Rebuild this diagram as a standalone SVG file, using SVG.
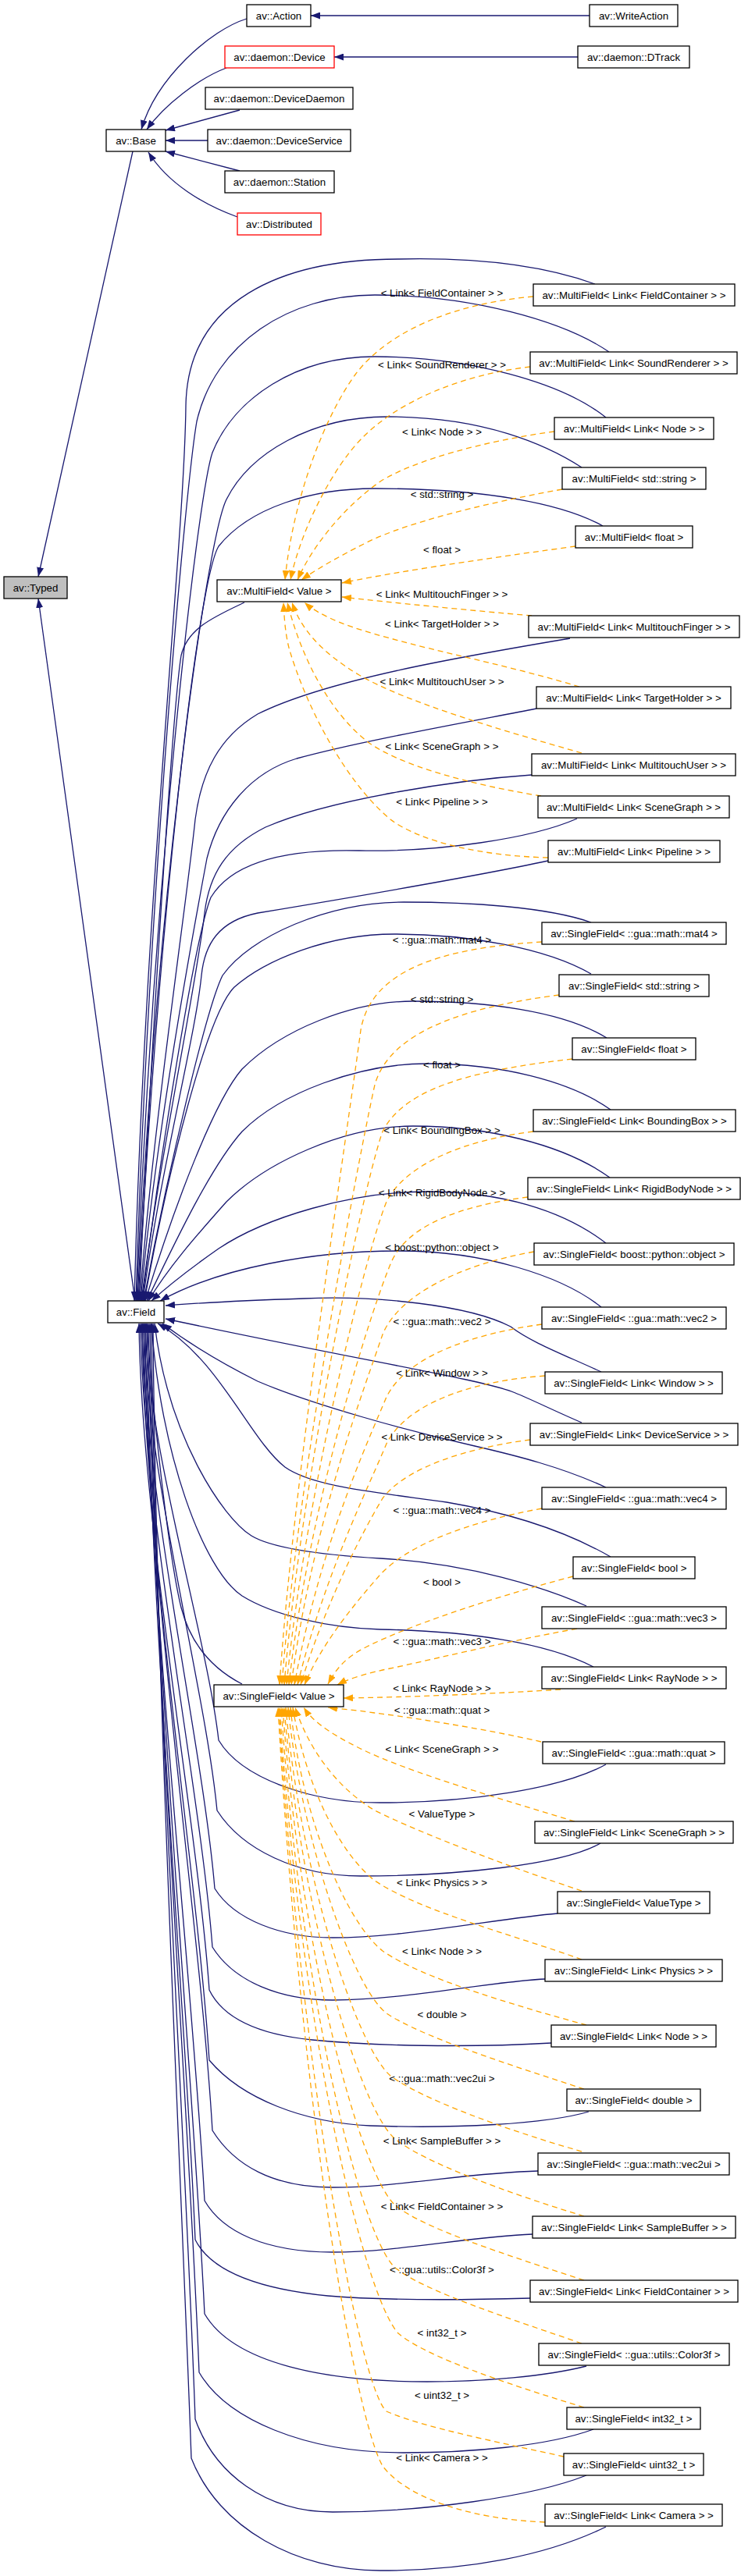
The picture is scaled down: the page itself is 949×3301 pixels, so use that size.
<svg xmlns="http://www.w3.org/2000/svg" width="949" height="3301" viewBox="0 0 949 3301">
<defs>
<style>
.node rect{fill:#fff;stroke:#000;stroke-width:1.3}
.node.red rect{stroke:#f00}
.node.gray rect{fill:#bfbfbf}
text{font-family:"Liberation Sans",Arial,Helvetica,sans-serif;font-size:13.3px;text-anchor:middle;fill:#000}
.e{fill:none;stroke:#191970;stroke-width:1.3;marker-end:url(#an)}
.t{fill:none;stroke:#ffa500;stroke-width:1.3;stroke-dasharray:7,5;marker-end:url(#ao)}
</style>
<marker id="an" viewBox="0 0 12 9" refX="12" refY="4.5" markerWidth="12" markerHeight="9" orient="auto" markerUnits="userSpaceOnUse"><path d="M0,0 L12,4.5 L0,9 z" fill="#191970"/></marker>
<marker id="ao" viewBox="0 0 12 9" refX="12" refY="4.5" markerWidth="12" markerHeight="9" orient="auto" markerUnits="userSpaceOnUse"><path d="M0,0 L12,4.5 L0,9 z" fill="#ffa500"/></marker>
</defs>
<rect width="949" height="3301" fill="#fff"/>
<g id="connectors">
<path class="e" d="M755,20 L398,20"/>
<path class="e" d="M740,73 L428,73"/>
<path class="e" d="M316,24 C270,38 200,100 181,166"/>
<path class="e" d="M290,87 C255,100 210,135 188,166"/>
<path class="e" d="M307,141 L212,167"/>
<path class="e" d="M266,180 L212,180"/>
<path class="e" d="M307,219 L212,194"/>
<path class="e" d="M304,278 C260,262 215,235 190,195"/>
<path class="e" d="M170,194 L49,739"/>
<path class="e" d="M173,1667 L49,767"/>
<!-- MultiField solid -->
<path class="e" d="M762,364 C690,338 600,330 511,332 C360,332 240,385 238,520 C236,700 185,1150 172,1667"/>
<path class="e" d="M780,451 C720,410 600,378 480,378 C370,378 275,440 252,540 C238,620 190,1150 174,1667"/>
<path class="e" d="M776,535 C720,490 600,457 480,457 C380,457 300,510 272,580 C252,640 195,1150 175,1667"/>
<path class="e" d="M745,599 C700,570 620,534 496,534 C400,534 320,580 290,640 C265,690 200,1150 176,1667"/>
<path class="e" d="M772,674 C720,645 620,626 480,626 C400,626 320,650 280,700 C255,740 205,1150 177,1667"/>
<path class="e" d="M313,772 C275,790 240,805 232,840 C222,900 196,1300 178,1667"/>
<path class="e" d="M730,818 C600,840 420,870 330,915 C280,945 258,990 250,1050 C240,1150 195,1450 179,1667"/>
<path class="e" d="M687,908 C600,925 460,950 380,972 C320,990 280,1040 265,1100 C250,1180 200,1450 180,1667"/>
<path class="e" d="M681,993 C580,1000 420,1025 340,1060 C290,1085 268,1120 262,1170 C252,1260 205,1480 181,1667"/>
<path class="e" d="M739,1049 C680,1075 560,1092 460,1090 C380,1088 300,1100 270,1150 C250,1200 205,1480 182,1667"/>
<path class="e" d="M702,1103 C600,1125 420,1155 330,1170 C280,1180 262,1210 258,1250 C250,1330 205,1500 183,1667"/>
<!-- SingleField solid (upper) -->
<path class="e" d="M757,1182 C700,1162 600,1156 517,1156 C420,1156 320,1200 285,1250 C265,1290 215,1500 184,1667"/>
<path class="e" d="M757,1248 C700,1215 600,1197 505,1197 C420,1197 340,1230 300,1265 C265,1300 215,1500 185,1667"/>
<path class="e" d="M777,1330 C720,1295 620,1283 529,1283 C450,1283 360,1320 310,1370 C275,1410 225,1540 186,1667"/>
<path class="e" d="M782,1422 C730,1385 640,1363 547,1363 C460,1363 360,1400 310,1450 C270,1495 225,1590 188,1667"/>
<path class="e" d="M781,1509 C720,1465 620,1443 529,1443 C440,1443 340,1490 290,1540 C250,1585 215,1625 190,1667"/>
<path class="e" d="M776,1593 C720,1550 640,1527 547,1527 C450,1527 340,1560 280,1600 C240,1628 215,1648 194,1667"/>
<path class="e" d="M770,1675 C720,1635 620,1603 511,1603 C400,1603 280,1625 205,1667"/>
<path class="e" d="M770,1758 C720,1735 680,1720 654,1700 C600,1672 480,1660 389,1664 C300,1667 250,1670 212,1673"/>
<path class="e" d="M745,1823 C710,1808 680,1793 660,1785 C620,1768 470,1745 212,1690"/>
<path class="e" d="M776,1906 C720,1880 660,1865 608,1853 C520,1833 400,1800 330,1770 C280,1745 240,1720 208,1696"/>
<path class="e" d="M782,1995 C730,1965 660,1940 572,1925 C480,1912 400,1905 365,1880 C320,1845 280,1740 202,1696"/>
<path class="e" d="M751,2058 C700,2035 600,2003 487,1997 C420,1993 350,1985 322,1968 C285,1945 215,1840 198,1696"/>
<path class="e" d="M760,2136 C700,2105 600,2090 487,2088 C420,2086 350,2070 310,2045 C260,2012 205,1860 194,1696"/>
<path class="e" d="M310,2158 C275,2140 245,2110 232,2060 C215,1990 195,1800 188,1696"/>
<!-- SingleField solid (lower) -->
<path class="e" d="M776,2261 C720,2292 600,2310 487,2310 C400,2310 310,2280 280,2230 C265,2097 189,1857 186,1696"/>
<path class="e" d="M769,2362 C720,2390 580,2404 462,2404 C380,2404 310,2370 278,2320 C263,2164 187,1884 184,1696"/>
<path class="e" d="M714,2452 C640,2458 520,2483 426,2483 C360,2483 300,2460 275,2420 C260,2239 185,1914 182,1696"/>
<path class="e" d="M698,2536 C620,2540 520,2563 426,2563 C360,2563 300,2540 272,2495 C257,2296 183,1936 180,1696"/>
<path class="e" d="M706,2618 C600,2624 480,2622 400,2614 C330,2607 285,2585 268,2550 C253,2337 181,1953 178,1696"/>
<path class="e" d="M754,2706 C700,2722 580,2728 474,2724 C390,2720 310,2690 268,2640 C253,2404 185,1980 182,1696"/>
<path class="e" d="M689,2782 C600,2784 510,2803 426,2803 C350,2803 300,2775 272,2730 C257,2472 187,2007 184,1696"/>
<path class="e" d="M682,2863 C600,2866 510,2886 426,2886 C340,2886 285,2860 262,2820 C247,2539 189,2034 186,1696"/>
<path class="e" d="M679,2945 C570,2948 480,2947 420,2942 C330,2933 270,2910 250,2870 C238,2577 191,2049 188,1696"/>
<path class="e" d="M751,3032 C700,3045 620,3052 547,3052 C420,3052 300,3030 262,2965 C247,2648 193,2077 190,1696"/>
<path class="e" d="M760,3113 C700,3135 600,3143 517,3143 C390,3143 290,3100 255,3040 C242,2704 195,2100 192,1696"/>
<path class="e" d="M751,3172 C680,3200 540,3219 426,3219 C340,3219 275,3170 250,3100 C238,2749 197,2118 194,1696"/>
<path class="e" d="M776,3238 C700,3275 600,3294 487,3294 C380,3294 280,3240 245,3150 C232,2787 199,2133 196,1696"/>
<!-- MultiField template edges -->
<path class="t" d="M683,380 C590,388 500,420 455,480 C415,535 375,640 365,743"/>
<path class="t" d="M679,470 C590,480 510,515 465,560 C425,600 385,680 372,743"/>
<path class="t" d="M710,553 C620,565 530,590 487,617 C440,650 400,700 381,743"/>
<path class="t" d="M720,627 C620,645 520,670 470,695 C430,715 405,730 386,743"/>
<path class="t" d="M737,700 C650,712 520,730 438,747"/>
<path class="t" d="M681,789 C600,782 500,772 438,765"/>
<path class="t" d="M742,880 C660,855 560,835 500,818 C450,805 410,790 390,772"/>
<path class="t" d="M745,965 C640,935 520,900 460,865 C410,835 385,805 374,772"/>
<path class="t" d="M693,1020 C600,1005 510,980 470,950 C420,910 385,840 368,772"/>
<path class="t" d="M702,1099 C620,1097 540,1080 500,1050 C440,1000 390,900 370,830 C365,810 364,790 363,772"/>
<!-- SingleField template edges (upper) -->
<path class="t" d="M694,1207 C560,1215 475,1245 462,1320 C445,1450 375,1900 358,2159"/>
<path class="t" d="M716,1275 C600,1290 500,1320 480,1390 C460,1480 380,1900 361,2159"/>
<path class="t" d="M733,1357 C620,1370 520,1390 490,1450 C465,1520 385,1900 364,2159"/>
<path class="t" d="M683,1450 C600,1460 520,1490 495,1540 C470,1600 390,1920 367,2159"/>
<path class="t" d="M676,1534 C590,1545 520,1570 500,1620 C475,1680 395,1930 370,2159"/>
<path class="t" d="M684,1604 C590,1620 510,1660 490,1710 C470,1770 400,1950 373,2159"/>
<path class="t" d="M694,1697 C600,1710 520,1740 495,1790 C470,1850 410,1980 377,2159"/>
<path class="t" d="M698,1763 C600,1770 520,1800 495,1850 C470,1910 415,2020 381,2159"/>
<path class="t" d="M679,1845 C600,1855 520,1880 490,1920 C460,1970 415,2060 385,2159"/>
<path class="t" d="M694,1933 C600,1950 520,1980 485,2020 C450,2060 410,2110 390,2159"/>
<path class="t" d="M734,2020 C620,2050 520,2085 470,2110 C440,2125 430,2140 420,2158"/>
<path class="t" d="M739,2087 C640,2105 540,2130 490,2140 C460,2147 445,2152 432,2159"/>
<path class="t" d="M718,2165 C640,2170 520,2175 440,2176"/>
<!-- SingleField template edges (lower) -->
<path class="t" d="M693,2232 C620,2215 520,2200 480,2195 C460,2192 440,2190 420,2188"/>
<path class="t" d="M736,2334 C640,2305 520,2270 460,2240 C420,2220 400,2205 389,2188"/>
<path class="t" d="M745,2423 C660,2395 540,2350 480,2320 C430,2290 395,2240 378,2188"/>
<path class="t" d="M745,2511 C660,2480 540,2450 480,2410 C430,2370 390,2280 375,2188"/>
<path class="t" d="M751,2595 C660,2570 540,2535 490,2500 C440,2460 385,2320 372,2188"/>
<path class="t" d="M748,2677 C650,2645 540,2610 495,2580 C450,2545 385,2350 369,2188"/>
<path class="t" d="M745,2757 C650,2730 540,2690 500,2660 C455,2620 385,2400 366,2188"/>
<path class="t" d="M748,2840 C650,2810 540,2770 505,2740 C460,2700 385,2450 364,2188"/>
<path class="t" d="M748,2922 C650,2890 540,2855 505,2825 C460,2780 385,2500 362,2188"/>
<path class="t" d="M745,3003 C650,2970 540,2935 505,2905 C460,2860 385,2550 360,2188"/>
<path class="t" d="M748,3085 C650,3055 545,3020 510,2990 C465,2940 385,2600 358,2188"/>
<path class="t" d="M722,3148 C640,3130 540,3110 495,3090 C460,3060 385,2650 357,2188"/>
<path class="t" d="M698,3232 C600,3228 520,3200 490,3160 C455,3100 385,2700 356,2188"/>
<!-- edge labels -->
<text x="566" y="379.5">&lt; Link&lt; FieldContainer &gt; &gt;</text>
<text x="566" y="471.5">&lt; Link&lt; SoundRenderer &gt; &gt;</text>
<text x="566" y="557.5">&lt; Link&lt; Node &gt; &gt;</text>
<text x="566" y="637.5">&lt; std::string &gt;</text>
<text x="566" y="708.5">&lt; float &gt;</text>
<text x="566" y="765.5">&lt; Link&lt; MultitouchFinger &gt; &gt;</text>
<text x="566" y="803.5">&lt; Link&lt; TargetHolder &gt; &gt;</text>
<text x="566" y="877.5">&lt; Link&lt; MultitouchUser &gt; &gt;</text>
<text x="566" y="960.5">&lt; Link&lt; SceneGraph &gt; &gt;</text>
<text x="566" y="1031.5">&lt; Link&lt; Pipeline &gt; &gt;</text>
<text x="566" y="1208.5">&lt; ::gua::math::mat4 &gt;</text>
<text x="566" y="1284.5">&lt; std::string &gt;</text>
<text x="566" y="1368.5">&lt; float &gt;</text>
<text x="566" y="1452.5">&lt; Link&lt; BoundingBox &gt; &gt;</text>
<text x="566" y="1532.5">&lt; Link&lt; RigidBodyNode &gt; &gt;</text>
<text x="566" y="1602.5">&lt; boost::python::object &gt;</text>
<text x="566" y="1697.5">&lt; ::gua::math::vec2 &gt;</text>
<text x="566" y="1763.5">&lt; Link&lt; Window &gt; &gt;</text>
<text x="566" y="1845.5">&lt; Link&lt; DeviceService &gt; &gt;</text>
<text x="566" y="1939.5">&lt; ::gua::math::vec4 &gt;</text>
<text x="566" y="2031.5">&lt; bool &gt;</text>
<text x="566" y="2107.5">&lt; ::gua::math::vec3 &gt;</text>
<text x="566" y="2167.5">&lt; Link&lt; RayNode &gt; &gt;</text>
<text x="566" y="2195.5">&lt; ::gua::math::quat &gt;</text>
<text x="566" y="2245.5">&lt; Link&lt; SceneGraph &gt; &gt;</text>
<text x="566" y="2328.5">&lt; ValueType &gt;</text>
<text x="566" y="2416.5">&lt; Link&lt; Physics &gt; &gt;</text>
<text x="566" y="2504.5">&lt; Link&lt; Node &gt; &gt;</text>
<text x="566" y="2585.5">&lt; double &gt;</text>
<text x="566" y="2667.5">&lt; ::gua::math::vec2ui &gt;</text>
<text x="566" y="2747.5">&lt; Link&lt; SampleBuffer &gt; &gt;</text>
<text x="566" y="2831.5">&lt; Link&lt; FieldContainer &gt; &gt;</text>
<text x="566" y="2912.5">&lt; ::gua::utils::Color3f &gt;</text>
<text x="566" y="2993.5">&lt; int32_t &gt;</text>
<text x="566" y="3073.5">&lt; uint32_t &gt;</text>
<text x="566" y="3153.5">&lt; Link&lt; Camera &gt; &gt;</text>
</g>
<g id="n_typed" class="node gray"><rect x="5" y="739" width="81" height="28"/><text x="45.5" y="758">av::Typed</text></g>
<g id="n_base" class="node"><rect x="136" y="166" width="76" height="28"/><text x="174" y="185">av::Base</text></g>
<g id="n_action" class="node"><rect x="316" y="6" width="82" height="28"/><text x="357" y="25">av::Action</text></g>
<g id="n_writeaction" class="node"><rect x="755" y="6" width="113" height="28"/><text x="811.5" y="25">av::WriteAction</text></g>
<g id="n_device" class="node red"><rect x="288" y="59" width="140" height="28"/><text x="358" y="78">av::daemon::Device</text></g>
<g id="n_dtrack" class="node"><rect x="740" y="59" width="143" height="28"/><text x="811.5" y="78">av::daemon::DTrack</text></g>
<g id="n_devicedaemon" class="node"><rect x="263" y="112" width="189" height="28"/><text x="357.5" y="131">av::daemon::DeviceDaemon</text></g>
<g id="n_deviceservice" class="node"><rect x="266" y="166" width="183" height="28"/><text x="357.5" y="185">av::daemon::DeviceService</text></g>
<g id="n_station" class="node"><rect x="288" y="219" width="140" height="28"/><text x="358" y="238">av::daemon::Station</text></g>
<g id="n_distributed" class="node red"><rect x="304" y="273" width="107" height="28"/><text x="357.5" y="292">av::Distributed</text></g>
<g id="n_field" class="node"><rect x="138" y="1667" width="72" height="28"/><text x="174" y="1686">av::Field</text></g>
<g id="n_mfvalue" class="node"><rect x="278" y="743" width="159" height="28"/><text x="357.5" y="762">av::MultiField&lt; Value &gt;</text></g>
<g id="n_sfvalue" class="node"><rect x="274" y="2159" width="166" height="28"/><text x="357" y="2178">av::SingleField&lt; Value &gt;</text></g>
<g id="n_mf_lfc" class="node"><rect x="683" y="364" width="258" height="28"/><text x="812" y="383">av::MultiField&lt; Link&lt; FieldContainer &gt; &gt;</text></g>
<g id="n_mf_lsr" class="node"><rect x="679" y="451" width="265" height="28"/><text x="811.5" y="470">av::MultiField&lt; Link&lt; SoundRenderer &gt; &gt;</text></g>
<g id="n_mf_lnode" class="node"><rect x="710" y="535" width="204" height="28"/><text x="812" y="554">av::MultiField&lt; Link&lt; Node &gt; &gt;</text></g>
<g id="n_mf_string" class="node"><rect x="720" y="599" width="184" height="28"/><text x="812" y="618">av::MultiField&lt; std::string &gt;</text></g>
<g id="n_mf_float" class="node"><rect x="737" y="674" width="150" height="28"/><text x="812" y="693">av::MultiField&lt; float &gt;</text></g>
<g id="n_mf_lmtf" class="node"><rect x="677" y="789" width="270" height="28"/><text x="812" y="808">av::MultiField&lt; Link&lt; MultitouchFinger &gt; &gt;</text></g>
<g id="n_mf_lth" class="node"><rect x="687" y="880" width="249" height="28"/><text x="811.5" y="899">av::MultiField&lt; Link&lt; TargetHolder &gt; &gt;</text></g>
<g id="n_mf_lmtu" class="node"><rect x="681" y="966" width="261" height="28"/><text x="811.5" y="985">av::MultiField&lt; Link&lt; MultitouchUser &gt; &gt;</text></g>
<g id="n_mf_lsg" class="node"><rect x="689" y="1020" width="245" height="28"/><text x="811.5" y="1039">av::MultiField&lt; Link&lt; SceneGraph &gt; &gt;</text></g>
<g id="n_mf_lpipe" class="node"><rect x="702" y="1077" width="220" height="28"/><text x="812" y="1096">av::MultiField&lt; Link&lt; Pipeline &gt; &gt;</text></g>
<g id="n_sf_mat4" class="node"><rect x="694" y="1182" width="236" height="28"/><text x="812" y="1201">av::SingleField&lt; ::gua::math::mat4 &gt;</text></g>
<g id="n_sf_string" class="node"><rect x="716" y="1249" width="192" height="28"/><text x="812" y="1268">av::SingleField&lt; std::string &gt;</text></g>
<g id="n_sf_float" class="node"><rect x="733" y="1330" width="158" height="28"/><text x="812" y="1349">av::SingleField&lt; float &gt;</text></g>
<g id="n_sf_lbb" class="node"><rect x="683" y="1422" width="259" height="28"/><text x="812.5" y="1441">av::SingleField&lt; Link&lt; BoundingBox &gt; &gt;</text></g>
<g id="n_sf_lrbn" class="node"><rect x="676" y="1509" width="272" height="28"/><text x="812" y="1528">av::SingleField&lt; Link&lt; RigidBodyNode &gt; &gt;</text></g>
<g id="n_sf_boost" class="node"><rect x="684" y="1593" width="256" height="28"/><text x="812" y="1612">av::SingleField&lt; boost::python::object &gt;</text></g>
<g id="n_sf_vec2" class="node"><rect x="694" y="1675" width="236" height="28"/><text x="812" y="1694">av::SingleField&lt; ::gua::math::vec2 &gt;</text></g>
<g id="n_sf_lwindow" class="node"><rect x="698" y="1758" width="227" height="28"/><text x="811.5" y="1777">av::SingleField&lt; Link&lt; Window &gt; &gt;</text></g>
<g id="n_sf_lds" class="node"><rect x="679" y="1824" width="266" height="28"/><text x="812" y="1843">av::SingleField&lt; Link&lt; DeviceService &gt; &gt;</text></g>
<g id="n_sf_vec4" class="node"><rect x="694" y="1906" width="236" height="28"/><text x="812" y="1925">av::SingleField&lt; ::gua::math::vec4 &gt;</text></g>
<g id="n_sf_bool" class="node"><rect x="734" y="1995" width="156" height="28"/><text x="812" y="2014">av::SingleField&lt; bool &gt;</text></g>
<g id="n_sf_vec3" class="node"><rect x="694" y="2059" width="236" height="28"/><text x="812" y="2078">av::SingleField&lt; ::gua::math::vec3 &gt;</text></g>
<g id="n_sf_lray" class="node"><rect x="694" y="2136" width="236" height="28"/><text x="812" y="2155">av::SingleField&lt; Link&lt; RayNode &gt; &gt;</text></g>
<g id="n_sf_quat" class="node"><rect x="695" y="2232" width="233" height="28"/><text x="811.5" y="2251">av::SingleField&lt; ::gua::math::quat &gt;</text></g>
<g id="n_sf_lsg" class="node"><rect x="685" y="2334" width="254" height="28"/><text x="812" y="2353">av::SingleField&lt; Link&lt; SceneGraph &gt; &gt;</text></g>
<g id="n_sf_valuetype" class="node"><rect x="714" y="2424" width="195" height="28"/><text x="811.5" y="2443">av::SingleField&lt; ValueType &gt;</text></g>
<g id="n_sf_lphys" class="node"><rect x="698" y="2511" width="227" height="28"/><text x="811.5" y="2530">av::SingleField&lt; Link&lt; Physics &gt; &gt;</text></g>
<g id="n_sf_lnode" class="node"><rect x="706" y="2595" width="211" height="28"/><text x="811.5" y="2614">av::SingleField&lt; Link&lt; Node &gt; &gt;</text></g>
<g id="n_sf_double" class="node"><rect x="726" y="2677" width="171" height="28"/><text x="811.5" y="2696">av::SingleField&lt; double &gt;</text></g>
<g id="n_sf_vec2ui" class="node"><rect x="689" y="2759" width="245" height="28"/><text x="811.5" y="2778">av::SingleField&lt; ::gua::math::vec2ui &gt;</text></g>
<g id="n_sf_lsb" class="node"><rect x="682" y="2840" width="260" height="28"/><text x="812" y="2859">av::SingleField&lt; Link&lt; SampleBuffer &gt; &gt;</text></g>
<g id="n_sf_lfc" class="node"><rect x="679" y="2922" width="266" height="28"/><text x="812" y="2941">av::SingleField&lt; Link&lt; FieldContainer &gt; &gt;</text></g>
<g id="n_sf_color3f" class="node"><rect x="690" y="3003" width="244" height="28"/><text x="812" y="3022">av::SingleField&lt; ::gua::utils::Color3f &gt;</text></g>
<g id="n_sf_int32" class="node"><rect x="726" y="3085" width="171" height="28"/><text x="811.5" y="3104">av::SingleField&lt; int32_t &gt;</text></g>
<g id="n_sf_uint32" class="node"><rect x="722" y="3144" width="179" height="28"/><text x="811.5" y="3163">av::SingleField&lt; uint32_t &gt;</text></g>
<g id="n_sf_lcamera" class="node"><rect x="698" y="3209" width="227" height="28"/><text x="811.5" y="3228">av::SingleField&lt; Link&lt; Camera &gt; &gt;</text></g>
</svg>
